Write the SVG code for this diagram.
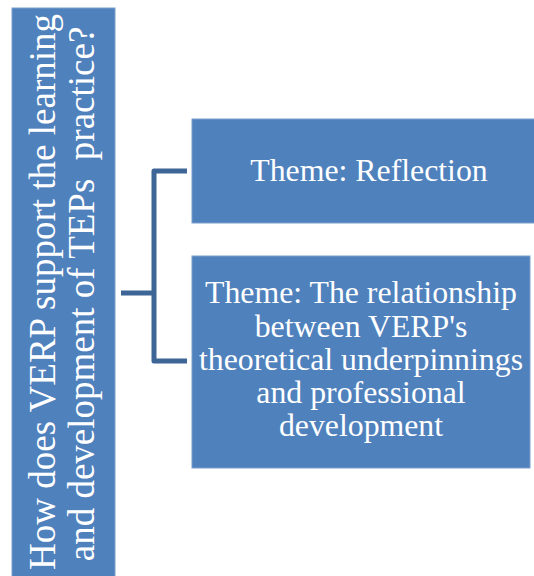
<svg xmlns="http://www.w3.org/2000/svg" width="534" height="576" viewBox="0 0 534 576">
<style>
.box{fill:#4f81bd;stroke:#7a9fcf;stroke-width:1}
.t{font-family:"Liberation Serif","Times New Roman",serif;fill:#ffffff;text-anchor:middle}
.conn{fill:none;stroke:#3d6595;stroke-width:5;stroke-linejoin:round}
</style>
<rect width="534" height="576" fill="#ffffff"/>
<g id="connectors">
<path class="conn" d="M187,171 H154 V361 H187"/>
<path class="conn" d="M121,293 H154"/>
</g>
<g id="question">
<rect class="box" x="12" y="8" width="103" height="572"/>
<text class="t" font-size="37" transform="rotate(-90)" xml:space="preserve"><tspan x="-292" y="55">How does VERP support the learning</tspan><tspan x="-294" y="94">and development of TEPs  practice?</tspan></text>
</g>
<g id="theme-reflection">
<rect class="box" x="192" y="119" width="354" height="104"/>
<text class="t" font-size="31.8" x="369" y="181">Theme: Reflection</text>
</g>
<g id="theme-relationship">
<rect class="box" x="192" y="256" width="338" height="212"/>
<text class="t" font-size="31.8"><tspan x="361" y="303">Theme: The relationship</tspan><tspan x="361" y="337">between VERP's</tspan><tspan x="361" y="370">theoretical underpinnings</tspan><tspan x="361" y="403">and professional</tspan><tspan x="361" y="436">development</tspan></text>
</g>
</svg>
